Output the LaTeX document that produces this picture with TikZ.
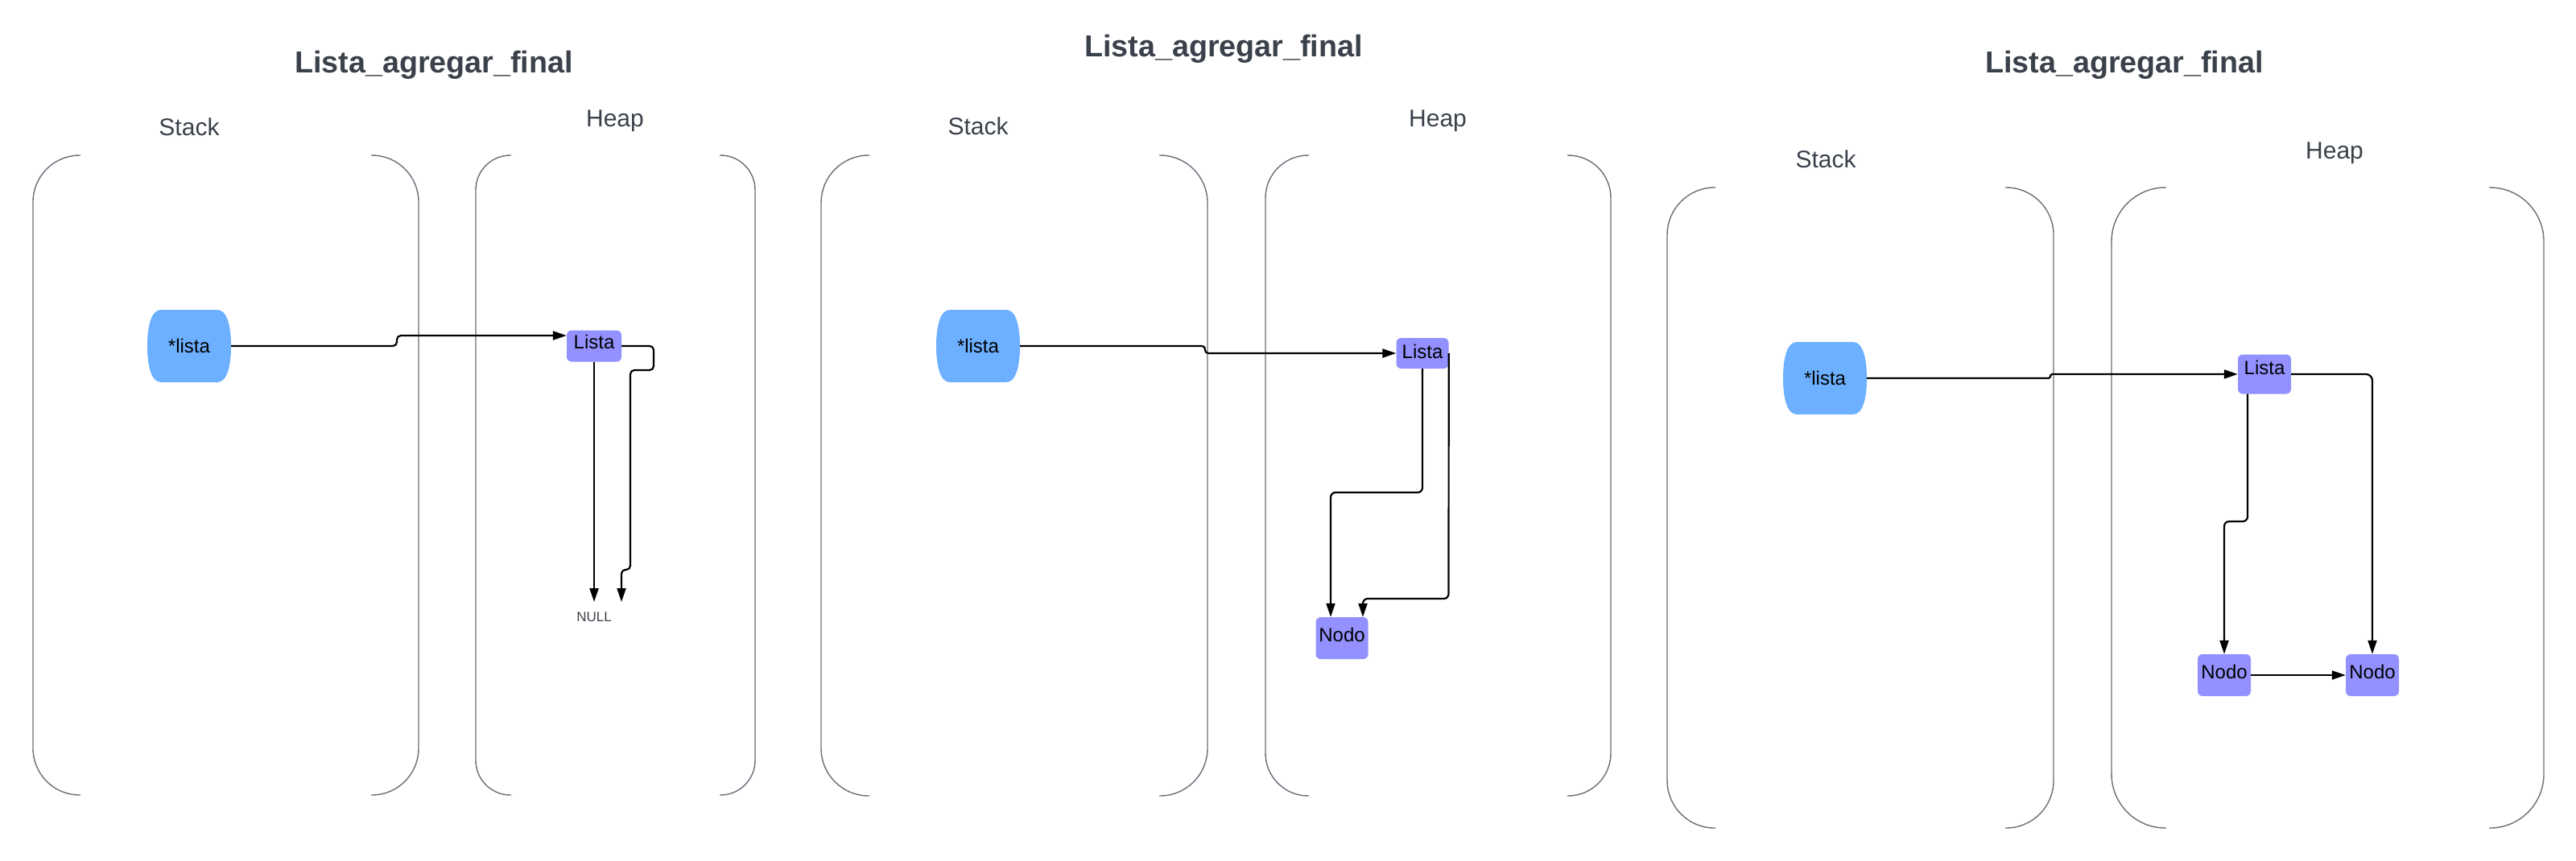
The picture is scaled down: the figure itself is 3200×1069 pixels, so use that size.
\documentclass[tikz,border=0pt]{standalone}
\usepackage{fontspec}
\setmainfont{Liberation Sans}
\usetikzlibrary{arrows.meta,calc}
\definecolor{nodefill}{RGB}{146,145,255}
\definecolor{ptrfill}{RGB}{108,176,255}
\definecolor{labelgray}{RGB}{58,65,74}
\definecolor{contgray}{RGB}{105,110,120}
\newcommand\memarea[5]{%
  \draw[cont,rounded corners=#5pt] (#1+#5+1,#2) -- (#1,#2) -- (#1,#4) -- (#1+#5+1,#4);
  \draw[cont,rounded corners=#5pt] (#3-#5-1,#2) -- (#3,#2) -- (#3,#4) -- (#3-#5-1,#4);}
\newcommand\ptrshape[2]{%
  \fill[ptrfill] (#1-35,#2-45) -- (#1+35,#2-45)
    .. controls (#1+47,#2-45) and (#1+52,#2-25) .. (#1+52,#2)
    .. controls (#1+52,#2+25) and (#1+47,#2+45) .. (#1+35,#2+45)
    -- (#1-35,#2+45)
    .. controls (#1-47,#2+45) and (#1-52,#2+25) .. (#1-52,#2)
    .. controls (#1-52,#2-25) and (#1-47,#2-45) .. (#1-35,#2-45) -- cycle;}
\begin{document}
\begin{tikzpicture}[x=1pt,y=-1pt,
  cont/.style={draw=contgray,line width=1.4pt},
  conn/.style={draw=black,line width=2.2pt,-{Triangle[length=17pt,width=11pt]},rounded corners=6pt},
  heapbox/.style={fill=nodefill,rounded corners=6pt,inner sep=0pt,minimum width=66pt,
    text height=17pt,font=\fontsize{24}{28}\selectfont},
  ptr/.style={inner sep=0pt,minimum width=104pt,minimum height=90pt,
    text height=17pt,text depth=0pt,font=\fontsize{24}{28}\selectfont},
  titletxt/.style={anchor=base,text=labelgray,font=\fontsize{37.7}{44}\selectfont\bfseries},
  areatxt/.style={anchor=base,text=labelgray,font=\fontsize{30}{36}\selectfont},
  nulltxt/.style={text=labelgray,font=\fontsize{17}{20}\selectfont,inner sep=0pt}
]
\useasboundingbox (0,0) rectangle (3200,1069);

% ---------------- panel 1 ----------------
\node[titletxt] (t1) at (539,90) {Lista\_agregar\_final};
\node[areatxt] (s1) at (235,168) {Stack};
\node[areatxt] (h1) at (764,157) {Heap};
\memarea{41}{193}{520}{988}{58}
\memarea{591}{193}{938}{988}{43}
\ptrshape{235}{430}
\node[ptr] (P1) at (235,430) {*lista};
\node[heapbox,minimum width=68pt,minimum height=39pt,text depth=10pt] (Li1) at (738,430) {Lista};
\node[nulltxt] (null1) at (738,767) {NULL};
\coordinate (n1a) at (738,748);
\coordinate (n1b) at (772,748);
\draw[conn,rounded corners=5pt] (P1.east) -- (493,430) -- (493,417) -- ($(Li1.west)+(0,-13)$);
\draw[conn] (Li1.south) -- (n1a);
\draw[conn,rounded corners=5pt] (Li1.east) -- (812,430) -- (812,460) -- (783,460) -- (783,708) -- (772,708) -- (n1b);

% ---------------- panel 2 ----------------
\node[titletxt] (t2) at (1520,70) {Lista\_agregar\_final};
\node[areatxt] (s2) at (1215,167) {Stack};
\node[areatxt] (h2) at (1786,157) {Heap};
\memarea{1020}{193}{1500}{989}{59}
\memarea{1572}{193}{2001}{989}{53}
\ptrshape{1215}{430}
\node[ptr] (P2) at (1215,430) {*lista};
\node[heapbox,minimum width=65pt,minimum height=38pt,text depth=5pt] (Li2) at (1767,439) {Lista};
\node[heapbox,minimum width=65pt,minimum height=52pt,text depth=8pt] (No2) at (1667,793) {Nodo};
\draw[conn,rounded corners=4pt] (P2.east) -- (1497,430) -- (1497,439) -- (Li2.west);
\draw[conn] (Li2.south) -- (1767,612) -- (1653,612) -- ($(No2.north)+(-14,0)$);
\draw[conn] (Li2.east) -- (1799.5,744) -- (1693,744) -- ($(No2.north)+(26,0)$);

% ---------------- panel 3 ----------------
\node[titletxt] (t3) at (2639,90) {Lista\_agregar\_final};
\node[areatxt] (s3) at (2268,208) {Stack};
\node[areatxt] (h3) at (2900,197) {Heap};
\memarea{2071}{233}{2551}{1029}{59}
\memarea{2623}{233}{3160}{1029}{67}
\ptrshape{2267}{470}
\node[ptr] (P3) at (2267,470) {*lista};
\node[heapbox,minimum height=49pt,text depth=16pt] (Li3) at (2813,465) {Lista};
\node[heapbox,minimum height=52pt,text depth=8pt] (No31) at (2763,839) {Nodo};
\node[heapbox,minimum height=52pt,text depth=8pt] (No32) at (2947,839) {Nodo};
\draw[conn,rounded corners=2.5pt] (P3.east) -- (2547,470) -- (2547,465) -- (Li3.west);
\draw[conn] ($(Li3.south)+(-21,0)$) -- (2792,648) -- (2763,648) -- (No31.north);
\draw[conn,rounded corners=8pt] (Li3.east) -| (No32.north);
\draw[conn] (No31.east) -- (No32.west);
\end{tikzpicture}
\end{document}
